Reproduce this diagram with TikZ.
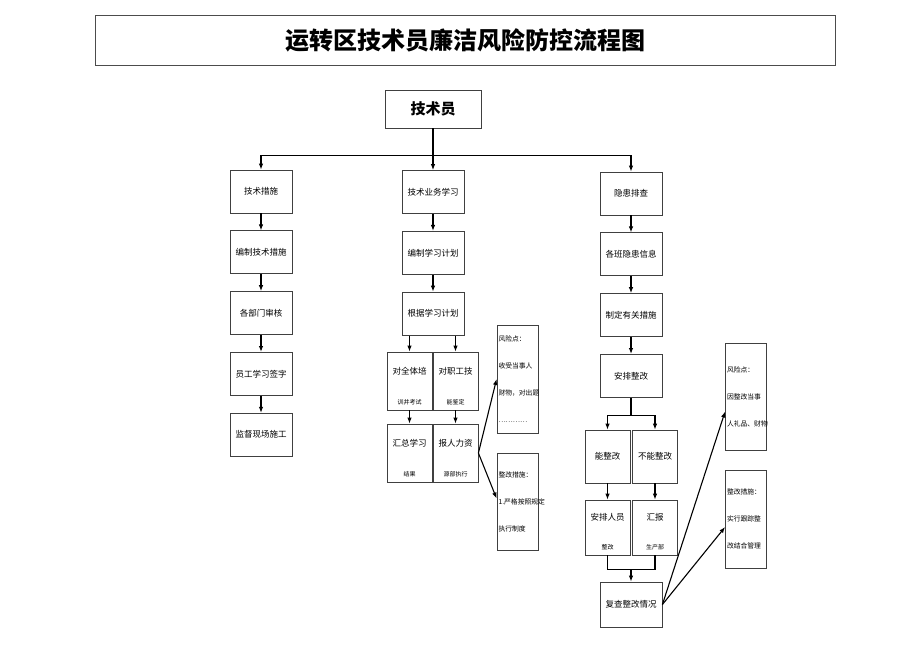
\documentclass[tikz,border=0pt]{standalone}
\usepackage{fontspec}
\setmainfont{Noto Sans CJK SC}
\usetikzlibrary{positioning,arrows.meta}

\tikzset{
  box/.style={draw=black!75, line width=0.8pt, minimum width=62pt, minimum height=43pt, inner sep=1pt, font=\fontsize{8.5}{10}\selectfont},
  subbox/.style={draw=black!75, line width=0.8pt, minimum width=45pt, minimum height=58pt, inner sep=0pt},
  subtop/.style={anchor=center, yshift=-20pt, inner sep=0pt, font=\fontsize{8.5}{10}\selectfont},
  subbot/.style={anchor=center, yshift=8pt, inner sep=0pt, font=\fontsize{6}{7}\selectfont},
  sidebox/.style={draw=black!75, line width=0.8pt, text width=38pt, inner xsep=1.5pt, align=left, font=\fontsize{6.8}{27}\selectfont},
  arrow/.style={draw=black, line width=1.1pt, -{Latex[length=6pt,width=4.5pt]}},
  link/.style={draw=black, line width=1.1pt},
}

\begin{document}
\begin{tikzpicture}[x=1pt,y=-1pt]
  \useasboundingbox (0,0) rectangle (920,651);

  % title and top node
  \node[draw=black!70, line width=0.6pt, minimum width=740pt, minimum height=50pt,
        font=\fontsize{24}{28}\selectfont\bfseries] (title) at (465,40) {运转区技术员廉洁风险防控流程图};
  \node[draw=black!75, line width=0.8pt, minimum width=96pt, minimum height=38pt,
        font=\fontsize{15}{18}\selectfont\bfseries] (tech) at (433,109) {技术员};

  % left column
  \node[box] (a1) at (261,191.5) {技术措施};
  \node[box, below=17pt of a1] (a2) {编制技术措施};
  \node[box, below=17pt of a2] (a3) {各部门审核};
  \node[box, below=17pt of a3] (a4) {员工学习签字};
  \node[box, below=17pt of a4] (a5) {监督现场施工};

  % middle column
  \node[box] (b1) at (433,192) {技术业务学习};
  \node[box, below=17pt of b1] (b2) {编制学习计划};
  \node[box, below=17pt of b2] (b3) {根据学习计划};
  \node[subbox, label={[subtop]north:对全体培}, label={[subbot]south:训并考试}] (b4a) at (409.5,381) {};
  \node[subbox, label={[subtop]north:对职工技}, label={[subbot]south:能鉴定}] (b4b) at (455.5,381) {};
  \node[subbox, label={[subtop]north:汇总学习}, label={[subbot]south:结果}] (b5a) at (409.5,453) {};
  \node[subbox, label={[subtop]north:报人力资}, label={[subbot]south:源部执行}] (b5b) at (455.5,453) {};
  \node[sidebox, minimum height=108pt] (bs1) at (517.5,379) {风险点：\\收受当事人\\财物，对出题\\…………};
  \node[sidebox, minimum height=97pt] (bs2) at (517.5,501.5) {整改措施：\\1.严格按照规定\\执行制度};

  % right column
  \node[box] (c1) at (631,193.5) {隐患排查};
  \node[box, below=17pt of c1] (c2) {各班隐患信息};
  \node[box, below=17pt of c2] (c3) {制定有关措施};
  \node[box, below=17pt of c3] (c4) {安排整改};
  \node[subbox, minimum height=53pt, font=\fontsize{8.5}{10}\selectfont] (c5a) at (607.5,456.5) {能整改};
  \node[subbox, minimum height=53pt, font=\fontsize{8.5}{10}\selectfont] (c5b) at (655,456.5) {不能整改};
  \node[subbox, minimum height=55pt, label={[subtop, yshift=2pt]north:安排人员}, label={[subbot]south:整改}] (c6a) at (607.5,527.5) {};
  \node[subbox, minimum height=55pt, label={[subtop, yshift=2pt]north:汇报}, label={[subbot]south:生产部}] (c6b) at (655,527.5) {};
  \node[box, minimum height=45pt] (c7) at (631,604.5) {复查整改情况};
  \node[sidebox, minimum height=107pt] (cs1) at (746,396.5) {风险点：\\因整改当事\\人礼品、财物};
  \node[sidebox, minimum height=98pt] (cs2) at (746,519) {整改措施：\\实行跟踪整\\改结合管理};

  % connectors from the top
  \coordinate[below=27pt of tech] (tbus);
  \draw[arrow] (tech.south) -- (tbus) -| (a1.north);
  \draw[arrow] (tech.south) -- (tbus) -| (c1.north);
  \draw[arrow] (tech) -- (b1);

  \foreach \u/\v in {a1/a2, a2/a3, a3/a4, a4/a5, b1/b2, b2/b3, c1/c2, c2/c3, c3/c4, b4a/b5a, b4b/b5b, c5a/c6a, c5b/c6b}
    \draw[arrow] (\u) -- (\v);

  \draw[arrow] (b3.south -| b4a.north) -- (b4a.north);
  \draw[arrow] (b3.south -| b4b.north) -- (b4b.north);

  \coordinate[below=18pt of c4] (cbus);
  \draw[link] (c4) -- (cbus);
  \draw[arrow] (cbus) -| (c5a.north);
  \draw[arrow] (cbus) -| (c5b.north);

  \coordinate[above=12pt of c7] (cjoin);
  \draw[link] (c6a.south) |- (cjoin);
  \draw[link] (c6b.south) |- (cjoin);
  \draw[arrow] (cjoin) -- (c7);

  % side notes
  \draw[arrow] (b5b.east) -- (bs1.west);
  \draw[arrow] (b5b.east) -- ([yshift=3pt]bs2.west);
  \draw[arrow] (c7.east) -- ([yshift=-15pt]cs1.west);
  \draw[arrow] (c7.east) -- ([yshift=-8pt]cs2.west);
\end{tikzpicture}
\end{document}
